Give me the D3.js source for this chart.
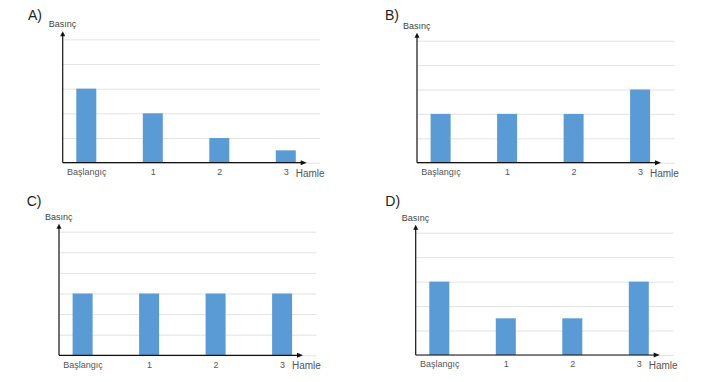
<!DOCTYPE html>
<html>
<head>
<meta charset="utf-8">
<script src="https://cdn.jsdelivr.net/npm/d3@7"></script>
<style>
  body { margin: 0; background: #fff; }
  text { font-family: "Liberation Sans", Arial, sans-serif; }
</style>
</head>
<body>
<div id="chart"></div>
<script>
// categories and values
const categories = ["Başlangıç", "1", "2", "3"];
const panelNames = ["A)", "B)", "C)", "D)"];
const valuesA = [3, 2, 1, 0.5];
const valuesB = [2, 2, 2, 3];
const valuesC = [3, 3, 3, 3];
const valuesD = [3, 1.5, 1.5, 3];
const gridMax = [5, 5, 6, 5];
const yTitle = "Basınç";
const xTitle = "Hamle";

// panel placement (axis origin, top grid line)
const panels = [
  { name: panelNames[0], values: valuesA, max: gridMax[0], ox: 62.7, oy: 162.7, top: 39.3, labelX: 28, labelY: 20 },
  { name: panelNames[1], values: valuesB, max: gridMax[1], ox: 417, oy: 162.7, top: 40.7, labelX: 385, labelY: 20 },
  { name: panelNames[2], values: valuesC, max: gridMax[2], ox: 59, oy: 355.3, top: 231.7, labelX: 26.7, labelY: 206 },
  { name: panelNames[3], values: valuesD, max: gridMax[3], ox: 415.7, oy: 355, top: 232.7, labelX: 385.3, labelY: 206 }
];

const W = 706, H = 382;
const barColor = "#5b9bd5";

const svg = d3.select("#chart").append("svg")
  .attr("width", W)
  .attr("height", H);

panels.forEach(p => {
  const g = svg.append("g");

  const x = d3.scalePoint()
    .domain(categories)
    .range([p.ox + 23.6, p.ox + 223.1]);

  const y = d3.scaleLinear()
    .domain([0, p.max])
    .range([p.oy, p.top]);

  // grid lines
  const grid = g.append("g")
    .attr("transform", "translate(" + p.ox + ",0)")
    .call(d3.axisLeft(y).ticks(p.max).tickSize(-(257.5)).tickFormat(""));
  grid.select(".domain").remove();
  grid.selectAll(".tick line")
    .attr("stroke", "#dcdcdc")
    .attr("stroke-width", 0.8);

  // bars
  g.selectAll("rect")
    .data(p.values)
    .join("rect")
    .attr("x", (d, i) => x(categories[i]) - 10)
    .attr("y", d => y(d))
    .attr("width", 20)
    .attr("height", d => y(0) - y(d))
    .attr("fill", barColor);

  // x tick labels
  const xAxis = g.append("g")
    .attr("transform", "translate(0," + p.oy + ")")
    .call(d3.axisBottom(x).tickSize(0).tickPadding(6));
  xAxis.select(".domain").remove();
  xAxis.selectAll("text")
    .attr("font-size", 9)
    .attr("fill", "#555")
    .attr("font-family", "Liberation Sans, Arial, sans-serif");

  // axes lines with arrows
  g.append("line")
    .attr("x1", p.ox).attr("x2", p.ox)
    .attr("y1", p.oy).attr("y2", p.top - 5)
    .attr("stroke", "#111").attr("stroke-width", 1.2);
  g.append("path")
    .attr("d", "M" + (p.ox - 2.5) + "," + (p.top - 3) + "L" + p.ox + "," + (p.top - 8) + "L" + (p.ox + 2.5) + "," + (p.top - 3) + "Z")
    .attr("fill", "#111");

  g.append("line")
    .attr("x1", p.ox).attr("x2", p.ox + 240)
    .attr("y1", p.oy).attr("y2", p.oy)
    .attr("stroke", "#111").attr("stroke-width", 1.2);
  g.append("path")
    .attr("d", "M" + (p.ox + 238) + "," + (p.oy - 2.5) + "L" + (p.ox + 244) + "," + p.oy + "L" + (p.ox + 238) + "," + (p.oy + 2.5) + "Z")
    .attr("fill", "#111");

  // titles
  g.append("text")
    .attr("x", p.ox - 14).attr("y", p.top - 12)
    .attr("font-size", 9).attr("fill", "#444")
    .text(yTitle);

  g.append("text")
    .attr("x", p.ox + 233).attr("y", p.oy + 14)
    .attr("font-size", 10).attr("fill", "#555")
    .text(xTitle);

  g.append("text")
    .attr("x", p.labelX).attr("y", p.labelY)
    .attr("font-size", 14).attr("fill", "#222")
    .text(p.name);
});
</script>
</body>
</html>
